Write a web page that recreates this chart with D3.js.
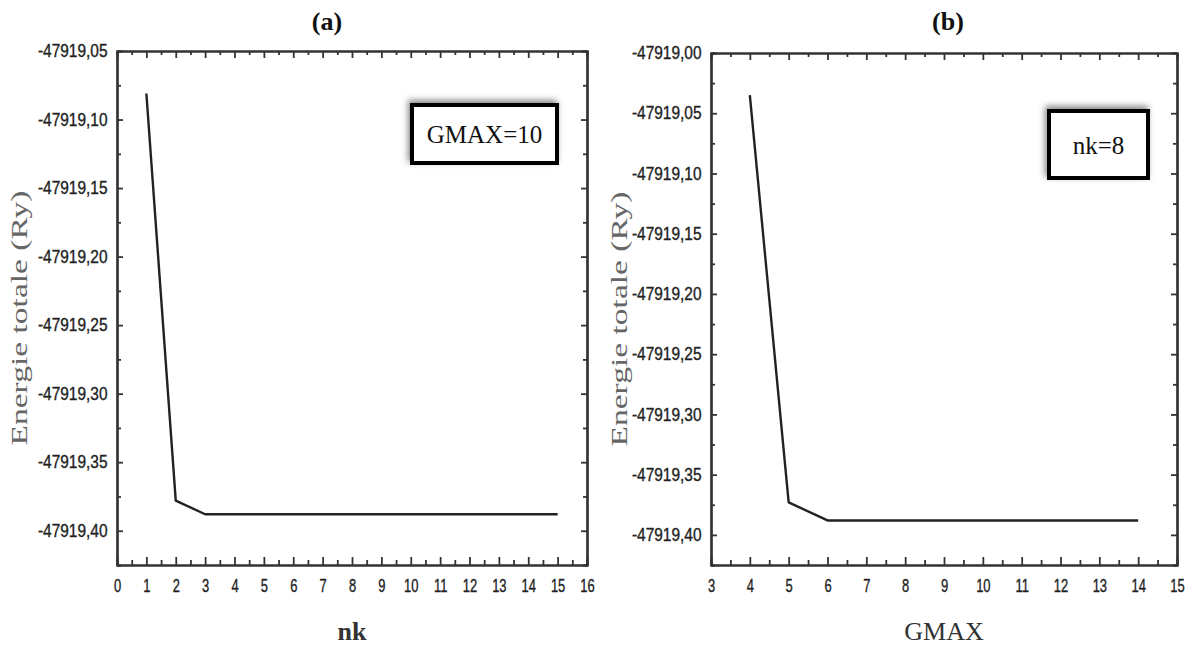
<!DOCTYPE html>
<html>
<head>
<meta charset="utf-8">
<script src="https://cdn.jsdelivr.net/npm/d3@7"></script>
<style>
  body { margin: 0; background: white; }
  .tick text { font-family: "Liberation Sans", Arial, sans-serif; fill: #222; stroke: #222; stroke-width: 0.35px; }
  .domain { stroke: #333; stroke-width: 2.2px; }
  .tick line { stroke: #333; stroke-width: 1.8px; }
</style>
</head>
<body>
<svg id="chart" width="1195" height="648"></svg>
<script>
// ---- data ----
var nkValues = [1, 2, 3, 4, 5, 6, 7, 8, 9, 10, 11, 12, 13, 14, 15];
var energyA = [-47919.081, -47919.378, -47919.388, -47919.388, -47919.388, -47919.388, -47919.388,
  -47919.388, -47919.388, -47919.388, -47919.388, -47919.388, -47919.388, -47919.388, -47919.388];

var gmaxValues = [4, 5, 6, 7, 8, 9, 10, 11, 12, 13, 14];
var energyB = [-47919.035, -47919.373, -47919.388, -47919.388, -47919.388, -47919.388,
  -47919.388, -47919.388, -47919.388, -47919.388, -47919.388];

var xTicksA = [0, 1, 2, 3, 4, 5, 6, 7, 8, 9, 10, 11, 12, 13, 14, 15, 16];
var yTicksA = [-47919.05, -47919.10, -47919.15, -47919.20, -47919.25, -47919.30, -47919.35, -47919.40];
var xTicksB = [3, 4, 5, 6, 7, 8, 9, 10, 11, 12, 13, 14, 15];
var yTicksB = [-47919.00, -47919.05, -47919.10, -47919.15, -47919.20, -47919.25, -47919.30, -47919.35, -47919.40];

var svg = d3.select("#chart");

// shadow filter for the annotation boxes
var defs = svg.append("defs");
defs.append("filter").attr("id", "shadow")
  .attr("x", "-30%").attr("y", "-40%").attr("width", "160%").attr("height", "180%")
  .append("feDropShadow")
  .attr("dx", -2).attr("dy", -3).attr("stdDeviation", 3)
  .attr("flood-color", "#555").attr("flood-opacity", 0.7);

// comma decimals, plain hyphen for the minus sign
var fmt = (d) => d3.format(".2f")(d).replace(".", ",").replace("\u2212", "-");

function halfSteps(ticks) {
  // minor ticks halfway between the major ones
  var out = [];
  for (var i = 0; i < ticks.length - 1; i++) out.push((ticks[i] + ticks[i + 1]) / 2);
  return out;
}

function drawPanel(opt) {
  var g = svg.append("g");
  var x = d3.scaleLinear().domain(opt.xDomain).range([opt.left, opt.right]);
  var y = d3.scaleLinear().domain(opt.yDomain).range([opt.bottom, opt.top]);

  var yMinor = halfSteps(opt.yTicks).concat([opt.yTicks[opt.yTicks.length - 1] - 0.025]);
  var xMinor = halfSteps(opt.xTicks);

  // minor ticks
  g.append("g").attr("transform", `translate(0,${opt.bottom})`)
    .call(d3.axisBottom(x).tickValues(xMinor).tickSize(-5).tickFormat(""));
  g.append("g").attr("transform", `translate(0,${opt.top})`)
    .call(d3.axisTop(x).tickValues(xMinor).tickSize(-4).tickFormat(""));
  g.append("g").attr("transform", `translate(${opt.left},0)`)
    .call(d3.axisLeft(y).tickValues(yMinor).tickSize(-4).tickFormat(""));
  g.append("g").attr("transform", `translate(${opt.right},0)`)
    .call(d3.axisRight(y).tickValues(yMinor).tickSize(-4).tickFormat(""));

  // major ticks + labels
  g.append("g").attr("transform", `translate(0,${opt.bottom})`)
    .call(d3.axisBottom(x).tickValues(opt.xTicks).tickSizeInner(-8).tickSizeOuter(0).tickPadding(14).tickFormat(d3.format("d")))
    .selectAll("text").style("font-size", "18px").attr("transform", "scale(0.72,1)");
  g.append("g").attr("transform", `translate(0,${opt.top})`)
    .call(d3.axisTop(x).tickValues(opt.xTicks).tickSizeInner(-7).tickSizeOuter(0).tickFormat(""));
  g.append("g").attr("transform", `translate(${opt.left},0)`)
    .call(d3.axisLeft(y).tickValues(opt.yTicks).tickSizeInner(-6).tickSizeOuter(0).tickPadding(11).tickFormat(fmt))
    .selectAll("text").style("font-size", "18px").attr("transform", "scale(0.86,1)");
  g.append("g").attr("transform", `translate(${opt.right},0)`)
    .call(d3.axisRight(y).tickValues(opt.yTicks).tickSizeInner(-6).tickSizeOuter(0).tickFormat(""));

  // data line
  var line = d3.line().x((d) => x(d[0])).y((d) => y(d[1]));
  g.append("path")
    .datum(d3.zip(opt.xs, opt.ys))
    .attr("d", line)
    .style("fill", "none")
    .style("stroke", "#222")
    .style("stroke-width", "2.4px")
    .style("stroke-linejoin", "round");

  // panel title
  g.append("text").text(opt.title)
    .attr("x", opt.titleX).attr("y", 30)
    .style("text-anchor", "middle")
    .style("font-family", "Liberation Serif, serif")
    .style("font-weight", "bold")
    .style("font-size", "26px")
    .style("fill", "#111");

  // x axis title
  g.append("text").text(opt.xLabel)
    .attr("x", (opt.left + opt.right) / 2).attr("y", 640)
    .style("text-anchor", "middle")
    .style("font-family", "Liberation Serif, serif")
    .style("font-weight", opt.xBold ? "bold" : "normal")
    .style("font-size", "26px")
    .style("fill", "#333");

  // y axis title
  g.append("text").text("Energie totale (Ry)")
    .attr("transform", `translate(${opt.yLabelX},${(opt.top + opt.bottom) / 2 + 10}) rotate(-90)`)
    .attr("textLength", 255)
    .attr("lengthAdjust", "spacingAndGlyphs")
    .style("text-anchor", "middle")
    .style("font-family", "Liberation Serif, serif")
    .style("font-size", "23px")
    .style("fill", "#666");

  // annotation box
  var b = opt.box;
  g.append("rect")
    .attr("x", b.x).attr("y", b.y).attr("width", b.w).attr("height", b.h)
    .style("fill", "white").style("stroke", "#000").style("stroke-width", 4)
    .attr("filter", "url(#shadow)");
  g.append("text").text(b.text)
    .attr("x", b.x + b.w / 2).attr("y", b.y + b.h / 2 + 9)
    .style("text-anchor", "middle")
    .style("font-family", "Liberation Serif, serif")
    .style("font-size", "25px")
    .style("fill", "#111");
}

drawPanel({
  left: 117, right: 587, top: 51, bottom: 565,
  xDomain: [0, 16], yDomain: [-47919.425, -47919.05],
  xTicks: xTicksA, yTicks: yTicksA,
  xs: nkValues, ys: energyA,
  title: "(a)", titleX: 327, xLabel: "nk", xBold: true, yLabelX: 27,
  box: { x: 412, y: 105, w: 145, h: 58, text: "GMAX=10" }
});

drawPanel({
  left: 711, right: 1177, top: 53, bottom: 565,
  xDomain: [3, 15], yDomain: [-47919.425, -47919.00],
  xTicks: xTicksB, yTicks: yTicksB,
  xs: gmaxValues, ys: energyB,
  title: "(b)", titleX: 948, xLabel: "GMAX", xBold: false, yLabelX: 627,
  box: { x: 1049, y: 111, w: 99, h: 67, text: "nk=8" }
});
</script>
</body>
</html>
